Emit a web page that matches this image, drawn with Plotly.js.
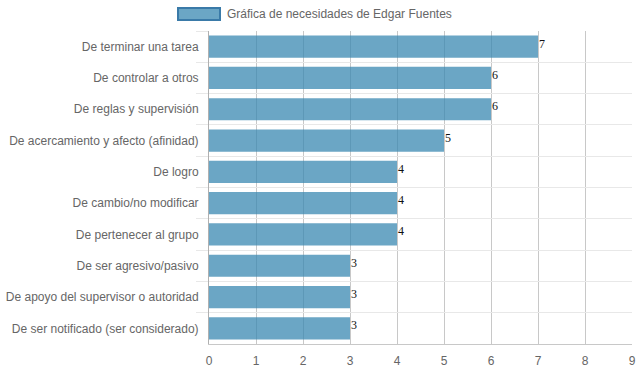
<!DOCTYPE html>
<html>
<head>
<meta charset="utf-8">
<script src="https://cdn.plot.ly/plotly-3.0.1.min.js"></script>
<style>html,body{margin:0;padding:0;background:#fff;}#chart{width:639px;height:372px;}</style>
</head>
<body>
<div id="chart"></div>
<script>
var categories = [
  "De terminar una tarea",
  "De controlar a otros",
  "De reglas y supervisión",
  "De acercamiento y afecto (afinidad)",
  "De logro",
  "De cambio/no modificar",
  "De pertenecer al grupo",
  "De ser agresivo/pasivo",
  "De apoyo del supervisor o autoridad",
  "De ser notificado (ser considerado)"
];
var values = [7, 6, 6, 5, 4, 4, 4, 3, 3, 3];
var seriesName = "Gráfica de necesidades de Edgar Fuentes";
var xTicks = [0, 1, 2, 3, 4, 5, 6, 7, 8, 9];

var trace = {
  type: "bar",
  orientation: "h",
  y: categories,
  x: values,
  name: seriesName,
  marker: { color: "rgba(58,136,178,0.75)", line: { width: 0 } },
  hoverinfo: "x+y",
  showlegend: false
};

var annotations = values.map(function (v, i) {
  return {
    x: v, y: categories[i], xref: "x", yref: "y",
    text: String(v), showarrow: false,
    xanchor: "left", yanchor: "middle", xshift: -1, yshift: 3,
    font: { family: "Liberation Serif", size: 12, color: "#111" }
  };
});
annotations.push({
  xref: "paper", yref: "paper",
  x: (225 - 209) / (632 - 209), y: 1 + (31 - 14) / (344 - 31),
  xanchor: "left", yanchor: "middle",
  text: seriesName, showarrow: false,
  font: { family: "Liberation Sans, Arial, sans-serif", size: 12, color: "#666" }
});

var layout = {
  width: 639, height: 372,
  margin: { l: 209, r: 7, t: 31, b: 28, pad: 0 },
  paper_bgcolor: "#fff", plot_bgcolor: "#fff",
  font: { family: "Liberation Sans, Arial, sans-serif", size: 12, color: "#666" },
  bargap: 0.29,
  xaxis: {
    range: [0, 9], tickvals: xTicks, ticktext: xTicks.map(String),
    showgrid: true, gridcolor: "#c8c8c8", gridwidth: 1,
    zeroline: false, showline: true, linecolor: "#c8c8c8", linewidth: 1,
    ticks: "", ticklabelstandoff: 6,
    tickfont: { size: 12, color: "#666" }, fixedrange: true
  },
  yaxis: {
    type: "category", autorange: "reversed",
    tickson: "boundaries", ticks: "outside", ticklen: 12, tickcolor: "#e8e8e8",
    showgrid: true, gridcolor: "#e8e8e8", gridwidth: 1,
    showline: true, linecolor: "#b0b0b0", linewidth: 1,
    zeroline: false, ticklabelstandoff: 7,
    tickfont: { size: 12, color: "#666" }, fixedrange: true
  },
  shapes: [{
    type: "rect", xref: "paper", yref: "paper",
    x0: (178 - 209) / (632 - 209), x1: (220 - 209) / (632 - 209),
    y0: 1 + (31 - 20) / (344 - 31), y1: 1 + (31 - 8) / (344 - 31),
    fillcolor: "rgba(58,136,178,0.75)",
    line: { color: "#3a7aa8", width: 2 }
  }],
  annotations: annotations,
  showlegend: false
};

Plotly.newPlot("chart", [trace], layout, { displayModeBar: false });
</script>
</body>
</html>
